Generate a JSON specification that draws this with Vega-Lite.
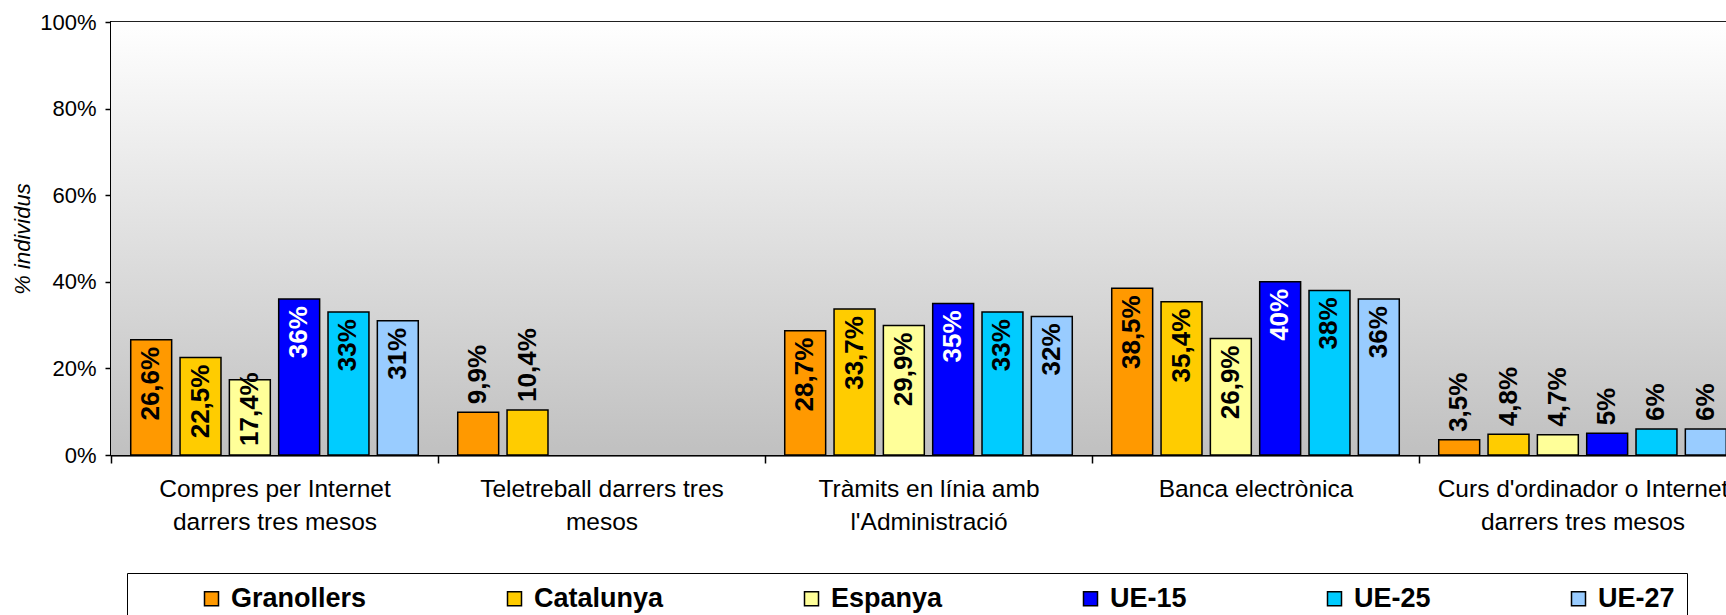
{
  "$schema": "https://vega.github.io/schema/vega-lite/v6.json",
  "autosize": "none",
  "padding": {"left": 111, "top": 22, "right": 0, "bottom": 160},
  "width": 1635,
  "height": 433,
  "title": {"text": "Usos d'Internet i formació", "fontSize": 26, "fontWeight": "bold", "font": "Liberation Sans", "offset": 15, "baseline": "bottom", "dx": -50, "anchor": "middle", "color": "black"},
  "datasets": {
    "vals": [
      {"cat": "Compres per Internet darrers tres mesos", "series": "Granollers", "value": 26.6},
      {"cat": "Compres per Internet darrers tres mesos", "series": "Catalunya", "value": 22.5},
      {"cat": "Compres per Internet darrers tres mesos", "series": "Espanya", "value": 17.4},
      {"cat": "Compres per Internet darrers tres mesos", "series": "UE-15", "value": 36},
      {"cat": "Compres per Internet darrers tres mesos", "series": "UE-25", "value": 33},
      {"cat": "Compres per Internet darrers tres mesos", "series": "UE-27", "value": 31},
      {"cat": "Teletreball darrers tres mesos", "series": "Granollers", "value": 9.9},
      {"cat": "Teletreball darrers tres mesos", "series": "Catalunya", "value": 10.4},
      {"cat": "Tràmits en línia amb l'Administració", "series": "Granollers", "value": 28.7},
      {"cat": "Tràmits en línia amb l'Administració", "series": "Catalunya", "value": 33.7},
      {"cat": "Tràmits en línia amb l'Administració", "series": "Espanya", "value": 29.9},
      {"cat": "Tràmits en línia amb l'Administració", "series": "UE-15", "value": 35},
      {"cat": "Tràmits en línia amb l'Administració", "series": "UE-25", "value": 33},
      {"cat": "Tràmits en línia amb l'Administració", "series": "UE-27", "value": 32},
      {"cat": "Banca electrònica", "series": "Granollers", "value": 38.5},
      {"cat": "Banca electrònica", "series": "Catalunya", "value": 35.4},
      {"cat": "Banca electrònica", "series": "Espanya", "value": 26.9},
      {"cat": "Banca electrònica", "series": "UE-15", "value": 40},
      {"cat": "Banca electrònica", "series": "UE-25", "value": 38},
      {"cat": "Banca electrònica", "series": "UE-27", "value": 36},
      {"cat": "Curs d'ordinador o Internet darrers tres mesos", "series": "Granollers", "value": 3.5},
      {"cat": "Curs d'ordinador o Internet darrers tres mesos", "series": "Catalunya", "value": 4.8},
      {"cat": "Curs d'ordinador o Internet darrers tres mesos", "series": "Espanya", "value": 4.7},
      {"cat": "Curs d'ordinador o Internet darrers tres mesos", "series": "UE-15", "value": 5},
      {"cat": "Curs d'ordinador o Internet darrers tres mesos", "series": "UE-25", "value": 6},
      {"cat": "Curs d'ordinador o Internet darrers tres mesos", "series": "UE-27", "value": 6}
    ],
    "bg": [{"lo": 0, "hi": 100}]
  },
  "layer": [
    {
      "data": {"name": "bg"},
      "mark": {"type": "rect", "color": {"gradient": "linear", "x1": 0, "y1": 0, "x2": 0, "y2": 1, "stops": [{"offset": 0, "color": "#FFFFFF"}, {"offset": 1, "color": "#C0C0C0"}]}},
      "encoding": {
        "y": {"field": "hi", "type": "quantitative", "scale": {"domain": [0, 100], "nice": false}},
        "y2": {"field": "lo"}
      }
    },
    {
      "data": {"name": "vals"},
      "transform": [
        {"calculate": "replace(toString(datum.value), '.', ',') + '%'", "as": "label"}
      ],
      "encoding": {
        "x": {
          "field": "cat", "type": "nominal",
          "scale": {"domain": ["Compres per Internet darrers tres mesos", "Teletreball darrers tres mesos", "Tràmits en línia amb l'Administració", "Banca electrònica", "Curs d'ordinador o Internet darrers tres mesos"], "paddingInner": 0, "paddingOuter": 0},
          "axis": {
            "title": null,
            "labelAngle": 0,
            "labelFont": "Liberation Sans",
            "labelFontSize": 24.5,
            "labelColor": "black",
            "labelLineHeight": 33,
            "labelPadding": 14,
            "labelLimit": 0,
            "tickBand": "extent",
            "tickSize": 8,
            "tickColor": "black",
            "tickWidth": 1.5,
            "domainColor": "black",
            "domainWidth": 2,
            "labelExpr": "datum.value == 'Compres per Internet darrers tres mesos' ? ['Compres per Internet', 'darrers tres mesos'] : datum.value == 'Teletreball darrers tres mesos' ? ['Teletreball darrers tres', 'mesos'] : datum.value == \"Tràmits en línia amb l'Administració\" ? ['Tràmits en línia amb', \"l'Administració\"] : datum.value == \"Curs d'ordinador o Internet darrers tres mesos\" ? [\"Curs d'ordinador o Internet\", 'darrers tres mesos'] : datum.value"
          }
        },
        "xOffset": {
          "field": "series", "type": "nominal",
          "scale": {"domain": ["Granollers", "Catalunya", "Espanya", "UE-15", "UE-25", "UE-27"], "paddingInner": 0.17, "paddingOuter": 0.4}
        }
      },
      "layer": [
        {
          "mark": {"type": "bar", "stroke": "black", "strokeWidth": 1.5},
          "encoding": {
            "y": {
              "field": "value", "type": "quantitative",
              "axis": {
                "values": [0, 20, 40, 60, 80, 100],
                "labelExpr": "datum.value + '%'",
                "title": "% individus",
                "titleFont": "Liberation Sans",
                "titleFontSize": 22,
                "titleFontStyle": "italic",
                "titleFontWeight": "normal",
                "titleColor": "black",
                "titleX": -89,
                "titleY": 216.5,
                "titleAngle": 270,
                "titleAlign": "center",
                "titleBaseline": "middle",
                "labelFont": "Liberation Sans",
                "labelFontSize": 22,
                "labelColor": "black",
                "labelPadding": 9,
                "tickSize": 6,
                "tickColor": "black",
                "tickWidth": 1.5,
                "domainColor": "black",
                "domainWidth": 2,
                "grid": true,
                "gridColor": "#808080",
                "gridWidth": 1.5
              }
            },
            "color": {
              "field": "series", "type": "nominal",
              "scale": {"domain": ["Granollers", "Catalunya", "Espanya", "UE-15", "UE-25", "UE-27"], "range": ["#FF9900", "#FFCC00", "#FFFF99", "#0000FF", "#00CCFF", "#99CCFF"]},
              "legend": {
                "orient": "none",
                "legendX": 16,
                "legendY": 551,
                "direction": "horizontal",
                "columns": 6,
                "title": " ",
                "titleOrient": "left",
                "titleFontSize": 1,
                "titlePadding": 59,
                "padding": 12,
                "strokeColor": "black",
                "fillColor": "white",
                "symbolType": "square",
                "symbolSize": 196,
                "symbolStrokeColor": "black",
                "symbolStrokeWidth": 1.5,
                "symbolOpacity": 1,
                "labelFont": "Liberation Sans",
                "labelFontSize": 27,
                "labelFontWeight": "bold",
                "labelColor": "black",
                "labelOffset": 6,
                "labelLimit": 0,
                "columnPadding": 134
              }
            }
          }
        },
        {
          "transform": [{"filter": "datum.value >= 20"}],
          "mark": {"type": "text", "angle": 270, "align": "right", "baseline": "middle", "dx": -7, "font": "Liberation Sans", "fontSize": 26, "fontWeight": "bold"},
          "encoding": {
            "y": {"field": "value", "type": "quantitative"},
            "text": {"field": "label"},
            "color": {"condition": {"test": "datum.series === 'UE-15'", "value": "white"}, "value": "black"}
          }
        },
        {
          "transform": [{"filter": "datum.value >= 12 && datum.value < 20"}],
          "mark": {"type": "text", "angle": 270, "align": "left", "baseline": "middle", "dx": 9, "font": "Liberation Sans", "fontSize": 26, "fontWeight": "bold"},
          "encoding": {
            "y": {"datum": 0, "type": "quantitative"},
            "text": {"field": "label"},
            "color": {"value": "black"}
          }
        },
        {
          "transform": [{"filter": "datum.value < 12"}],
          "mark": {"type": "text", "angle": 270, "align": "left", "baseline": "middle", "dx": 8, "font": "Liberation Sans", "fontSize": 26, "fontWeight": "bold"},
          "encoding": {
            "y": {"field": "value", "type": "quantitative"},
            "text": {"field": "label"},
            "color": {"value": "black"}
          }
        }
      ]
    }
  ],
  "config": {
    "font": "Liberation Sans",
    "view": {"stroke": "black", "strokeWidth": 2}
  }
}
